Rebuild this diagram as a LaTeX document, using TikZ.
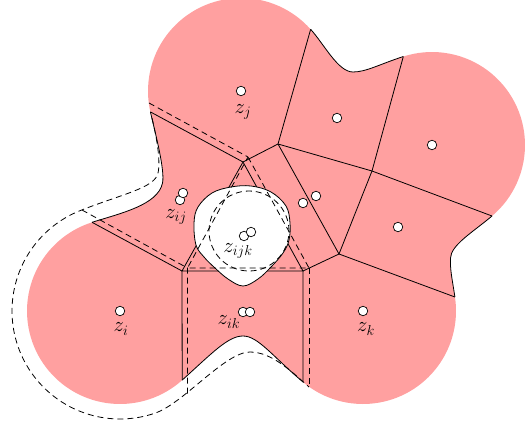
\documentclass[tikz,border=0pt]{standalone}
\definecolor{pinkfill}{RGB}{255,160,160}
\tikzset{
  dot/.style={circle, draw=black, fill=white, line width=0.7pt, inner sep=0pt, minimum size=9.5pt},
  vor/.style={line width=0.8pt, draw=black},
  dsh/.style={line width=0.8pt, draw=black, dash pattern=on 6pt off 4pt},
  bnd/.style={line width=0.8pt, draw=black},
  lab/.style={font=\huge, inner sep=0pt}
}
\begin{document}
\begin{tikzpicture}[x=1pt,y=-1pt]
\useasboundingbox (0,0) rectangle (529,430);
% boundary junctions
\coordinate (A1) at (150.4,111.9);
\coordinate (A2) at (310.65,29.34);
\coordinate (A3) at (403.3,56.55);
\coordinate (A4) at (492.0,216.0);
\coordinate (A5) at (454.9,297.0);
\coordinate (A6) at (303.0,382.0);
\coordinate (A7) at (182.2,380.1);
\coordinate (A8) at (92.04,222.3);
% voronoi vertices
\coordinate (V1) at (243,162);
\coordinate (V2) at (278,144);
\coordinate (V3) at (372,171);
\coordinate (V4) at (339,254);
\coordinate (V5) at (303,271);
\coordinate (V6) at (182,271);
% dashed vertices
\coordinate (B0) at (149,103);
\coordinate (D1) at (248,157);
\coordinate (D5) at (309,268);
\coordinate (D6) at (187.5,268);
\coordinate (B8) at (82,210);
\coordinate (B7) at (187.5,396);
\coordinate (B6) at (309,387);

% pink region
\fill[pinkfill]
  plot[domain=167:318.5,samples=50] ({241+93*cos(\x)},{91+93*sin(\x)})
  .. controls (324,44) and (338,72) .. (353,72)
  .. controls (366,72) and (379.5,64.3) .. (A3)
  -- plot[domain=252:409.8,samples=50] ({432+93*cos(\x)},{145+93*sin(\x)})
  .. controls (472.9,232.1) and (451,245) .. (450.5,258)
  .. controls (450,270) and (451.9,277.2) .. (A5)
  -- plot[domain=-8.65:130.2,samples=60] ({363+93*cos(\x)},{311+93*sin(\x)})
  .. controls (272.4,356.2) and (258,336) .. (243,336)
  .. controls (228,336) and (211.9,353.3) .. (A7)
  -- plot[domain=48:252.5,samples=70] ({120+93*cos(\x)},{311+93*sin(\x)})
  .. controls (120.6,213.3) and (158,205) .. (162.5,183)
  .. controls (165.1,170) and (155.3,133.3) .. (A1)
  -- cycle;

% stroked concave boundary parts
\draw[bnd] (A2) .. controls (324,44) and (338,72) .. (353,72)
  .. controls (366,72) and (379.5,64.3) .. (A3);
\draw[bnd] (A4) .. controls (472.9,232.1) and (451,245) .. (450.5,258)
  .. controls (450,270) and (451.9,277.2) .. (A5);
\draw[bnd] (A6) .. controls (272.4,356.2) and (258,336) .. (243,336)
  .. controls (228,336) and (211.9,353.3) .. (A7);
\draw[bnd] (A8) .. controls (120.6,213.3) and (158,205) .. (162.5,183)
  .. controls (165.1,170) and (155.3,133.3) .. (A1);

% solid Voronoi edges
\draw[vor] (A1) -- (V1) -- (V2) -- (A2);
\draw[vor] (V2) -- (V3) -- (A3);
\draw[vor] (V3) -- (A4);
\draw[vor] (V3) -- (V4) -- (A5);
\draw[vor] (V2) -- (V4) -- (V5) -- (A6);
\draw[vor] (A8) -- (V6) -- (A7);
\draw[vor] (V1) -- (V5) -- (V6) -- cycle;

% hole
\filldraw[fill=white, bnd] plot[smooth cycle, tension=0.6] coordinates {(194,223) (198,207) (212,193) (231,187) (251,186) (271,192) (286,206) (290,223) (289,240) (283,253) (271,267) (258,279) (243,286) (228,279) (215,268) (204,257) (196,245)};

% dashed structure
\draw[dsh] (B0) -- (D1);
\draw[dsh] (D1) -- (D5) -- (D6) -- cycle;
\draw[dsh] (B8) -- (D6) -- (B7);
\draw[dsh] (D5) -- (B6);
\draw[dsh] (249,231) circle[radius=40pt];
\draw[dsh] (152,118) .. controls (156,135) and (161,160) .. (158,173)
  .. controls (155,188) and (122.1,194.0) .. (80.2,210.6)
  -- plot[domain=248.4:71,samples=80] ({120+108*cos(\x)},{311+108*sin(\x)})
  .. controls (183.6,403.3) and (225,352) .. (250,352)
  .. controls (272,352) and (292,372) .. (B6);

% sites
\node[dot] (pj) at (241,91) {};
\node[dot] (pm) at (337,118) {};
\node[dot] (pr) at (432,145) {};
\node[dot] (pa1) at (303,203) {};
\node[dot] (pa2) at (316,196) {};
\node[dot] (pku) at (398,227) {};
\node[dot] (pk) at (363,311) {};
\node[dot] (pik1) at (243,312) {};
\node[dot] (pik2) at (250,312) {};
\node[dot] (pi) at (120,311) {};
\node[dot] (pij1) at (180,200) {};
\node[dot] (pij2) at (183,193) {};
\node[dot] (pijk1) at (244,236) {};
\node[dot] (pijk2) at (251,232) {};

% labels
\node[lab] (lj) at (243,112) {$z_j$};
\node[lab] (lij) at (176,217) {$z_{ij}$};
\node[lab] (lijk) at (238,251) {$z_{ijk}$};
\node[lab] (lik) at (229,322) {$z_{ik}$};
\node[lab] (lk) at (366,329) {$z_k$};
\node[lab] (li) at (121,329) {$z_i$};
\end{tikzpicture}
\end{document}
